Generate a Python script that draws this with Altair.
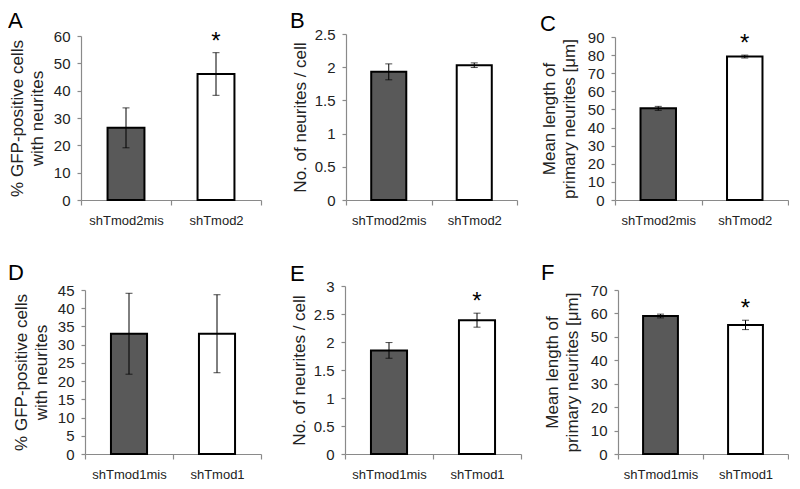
import altair as alt
import pandas as pd

FONT = "Liberation Sans"

# ---------------- data ----------------
panel_ids = ["A", "B", "C", "D", "E", "F"]
groups_top = ["shTmod2mis", "shTmod2"]
groups_bottom = ["shTmod1mis", "shTmod1"]

means_A = [26.4, 46.1]
errs_A = [7.3, 7.8]
means_B = [1.93, 2.03]
errs_B = [0.12, 0.035]
means_C = [50.6, 79.2]
errs_C = [1.1, 0.8]
means_D = [33.0, 33.0]
errs_D = [11.1, 10.7]
means_E = [1.85, 2.39]
errs_E = [0.14, 0.125]
means_F = [58.9, 55.1]
errs_F = [0.8, 2.0]

stars_A = [False, True]
stars_B = [False, False]
stars_C = [False, True]
stars_D = [False, False]
stars_E = [False, True]
stars_F = [False, True]

title_pct = ["% GFP-positive cells", "with neurites"]
title_num = "No. of neurites / cell"
title_len = ["Mean length of", "primary neurites [μm]"]

ticks_A = [0, 10, 20, 30, 40, 50, 60]
ticks_B = [0, 0.5, 1, 1.5, 2, 2.5]
ticks_C = [0, 10, 20, 30, 40, 50, 60, 70, 80, 90]
ticks_D = [0, 5, 10, 15, 20, 25, 30, 35, 40, 45]
ticks_E = [0, 0.5, 1, 1.5, 2, 2.5, 3]
ticks_F = [0, 10, 20, 30, 40, 50, 60, 70]

bar_colors = ["#595959", "#ffffff"]

# ---------------- layout (pixels) ----------------
geom = {
    "A": dict(w=264, h=166, xr=[0, 180], yr=[166, 2], yoff=0, tp=7, lx=-73, ly=-23),
    "B": dict(w=268, h=166, xr=[1, 172], yr=[166, 0], yoff=-1, tp=5, lx=-55, ly=-23),
    "C": dict(w=175, h=166, xr=[2, 175], yr=[166, 3], yoff=-2, tp=9, lx=-73, ly=-20),
    "D": dict(w=264, h=168, xr=[4, 180], yr=[168, 4], yoff=-4, tp=7, lx=-73, ly=-23),
    "E": dict(w=268, h=168, xr=[0, 176], yr=[168, 0], yoff=0, tp=5, lx=-55, ly=-22),
    "F": dict(w=175, h=168, xr=[5, 175], yr=[168, 4], yoff=-5, tp=9, lx=-72, ly=-23),
}

specs = {
    "A": (groups_top, means_A, errs_A, stars_A, title_pct, ticks_A),
    "B": (groups_top, means_B, errs_B, stars_B, title_num, ticks_B),
    "C": (groups_top, means_C, errs_C, stars_C, title_len, ticks_C),
    "D": (groups_bottom, means_D, errs_D, stars_D, title_pct, ticks_D),
    "E": (groups_bottom, means_E, errs_E, stars_E, title_num, ticks_E),
    "F": (groups_bottom, means_F, errs_F, stars_F, title_len, ticks_F),
}


def panel(pid):
    groups, means, errs, stars, ytitle, ticks = specs[pid]
    g = geom[pid]
    df = pd.DataFrame({
        "group": groups,
        "mean": means,
        "lo": [m - e for m, e in zip(means, errs)],
        "hi": [m + e for m, e in zip(means, errs)],
        "star": stars,
    })
    xscale = alt.Scale(domain=groups, range=g["xr"], paddingInner=0, paddingOuter=0)
    xaxis = alt.Axis(title=None, labelAngle=0, tickBand="extent", tickSize=5,
                     labelPadding=9, labelFontSize=13)
    yscale = alt.Scale(domain=[0, ticks[-1]], range=g["yr"], nice=False, zero=True)
    yaxis = alt.Axis(title=ytitle, values=ticks, labelExpr="'' + datum.value", offset=g["yoff"],
                     titlePadding=g["tp"], tickSize=4, labelPadding=7,
                     labelFontSize=15, titleFontSize=17, titleLineHeight=20)

    def X():
        return alt.X("group:N", sort=groups, scale=xscale, axis=xaxis)

    def Y(f):
        return alt.Y(f, scale=yscale, axis=yaxis)

    base = alt.Chart(df)
    bars = base.mark_bar(stroke="black", strokeWidth=2, width={"band": 0.41}).encode(
        x=X(), y=Y("mean:Q"),
        color=alt.Color("group:N", scale=alt.Scale(domain=groups, range=bar_colors), legend=None),
    )
    rule = base.mark_rule(color="black", strokeWidth=1).encode(x=X(), y=Y("lo:Q"), y2="hi:Q")
    cap_lo = base.mark_tick(color="black", thickness=1, size=7).encode(x=X(), y=Y("lo:Q"))
    cap_hi = base.mark_tick(color="black", thickness=1, size=7).encode(x=X(), y=Y("hi:Q"))
    star = base.transform_filter("datum.star").mark_text(
        text="*", fontSize=24, dy=-4, baseline="alphabetic", font=FONT, color="black"
    ).encode(x=X(), y=Y("hi:Q"))
    letter = alt.Chart(pd.DataFrame({"t": [pid]})).mark_text(
        fontSize=22, align="left", baseline="top", font=FONT, color="black"
    ).encode(text="t:N", x=alt.value(g["lx"]), y=alt.value(g["ly"]))

    return alt.layer(bars, rule, cap_lo, cap_hi, star, letter).properties(width=g["w"], height=g["h"])


chart = alt.concat(
    *[panel(p) for p in panel_ids],
    columns=3,
    spacing={"row": 86, "column": 0},
    bounds="flush",
).properties(
    padding={"left": 0, "top": 2, "right": 0, "bottom": 0}
).configure_view(
    stroke=None
).configure_axis(
    grid=False,
    domainColor="#8a8a8a",
    tickColor="#8a8a8a",
    domainWidth=1.2,
    tickWidth=1.2,
    labelColor="#222222",
    titleColor="#222222",
    labelFont=FONT,
    titleFont=FONT,
    titleFontWeight="normal",
).configure_text(font=FONT)

chart.save("out.html", embed_options={"renderer": "svg", "actions": False})
